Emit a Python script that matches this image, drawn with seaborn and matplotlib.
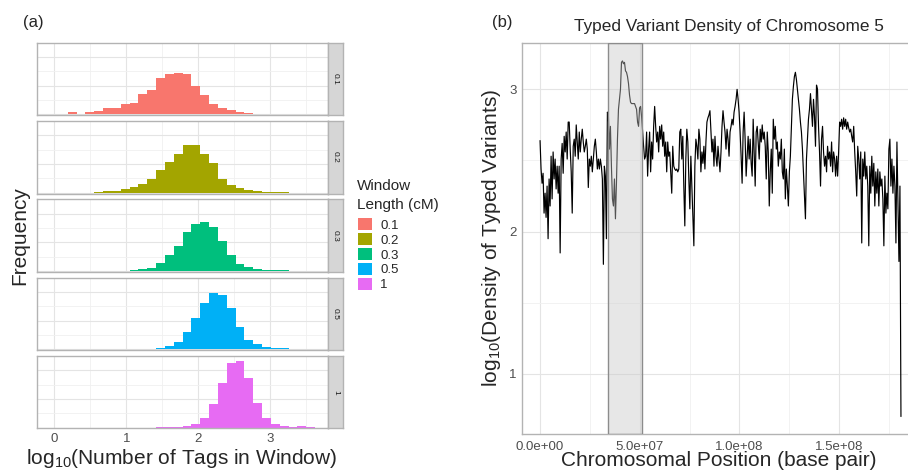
import numpy as np
import pandas as pd
import matplotlib
matplotlib.use("Agg")
import matplotlib.pyplot as plt
import seaborn as sns
from matplotlib.patches import Patch
from matplotlib.ticker import MultipleLocator, FuncFormatter, FixedLocator

sns.set_theme(style="white")
plt.rcParams["font.family"] = ["Liberation Sans", "DejaVu Sans"]
plt.rcParams["mathtext.fontset"] = "custom"
plt.rcParams["mathtext.rm"] = "Liberation Sans"
plt.rcParams["mathtext.it"] = "Liberation Sans:italic"
plt.rcParams["mathtext.bf"] = "Liberation Sans:bold"

# ---------------- data: panel (a) ----------------
window_lengths = ["0.1", "0.2", "0.3", "0.5", "1"]
window_colors = ["#F8766D", "#A3A500", "#00BF7D", "#00B0F6", "#E76BF3"]
bin_start = -0.06
bin_width = 0.1227
n_bins = 30

counts_01 = [0, 0, 140, 20, 190, 230, 420, 440, 740, 810, 1400, 1740, 2560, 2790, 2910,
             2790, 2000, 1330, 720, 470, 280, 160, 90, 50, 20, 20, 20, 10, 10, 0]
counts_02 = [0, 0, 0, 0, 0, 20, 90, 140, 260, 370, 600, 930, 1560, 2120, 2680,
             3300, 3300, 2700, 2050, 930, 540, 350, 210, 140, 70, 20, 20, 0, 0, 0]
counts_03 = [0, 0, 0, 7, 7, 7, 7, 12, 23, 47, 116, 233, 582, 1093, 1745,
             2745, 3303, 3442, 3070, 2117, 1093, 488, 256, 140, 93, 70, 47, 23, 0, 0]
counts_05 = [0, 0, 0, 0, 0, 0, 0, 7, 12, 12, 23, 60, 116, 240, 530,
             1230, 2220, 3256, 3910, 3768, 2880, 1560, 660, 349, 186, 116, 93, 47, 0, 0]
counts_1 = [0, 0, 0, 0, 0, 0, 0, 0, 12, 12, 12, 12, 23, 47, 70,
            93, 240, 700, 1630, 3140, 4489, 4660, 3450, 1720, 640, 240, 93, 20, 120, 20]
all_counts = [counts_01, counts_02, counts_03, counts_05, counts_1]

# ---------------- data: panel (b) ----------------
chrom_length_bp = 181.0e6
centromere_start = 33.9e6
centromere_end = 51.3e6
log_density = [
    2.64, 2.44, 2.34, 2.41, 2.13, 2.27, 2.10, 2.32, 1.95, 2.37, 2.18, 2.53, 2.23, 2.56, 2.37,
    2.51, 2.30, 2.46, 2.27, 2.46, 1.85, 2.51, 2.62, 2.41, 2.67, 2.56, 2.70, 2.51, 2.77, 2.77,
    2.58, 2.42, 2.13, 2.60, 2.65, 2.53, 2.75, 2.63, 2.51, 2.70, 2.56, 2.65, 2.72, 2.63, 2.56,
    2.60, 2.65, 2.58, 2.31, 2.51, 2.46, 2.53, 2.42, 2.51, 2.60, 2.65, 2.56, 2.44, 2.51, 2.44,
    2.51, 2.46, 2.37, 1.77, 2.46, 2.39, 1.95, 2.84, 2.81, 2.58, 2.74, 2.46, 2.23, 2.18, 2.37,
    2.09, 2.34, 2.65, 2.86, 2.93, 3.00, 3.19, 3.20, 3.18, 3.19, 3.13, 3.12, 3.09, 3.04, 2.96,
    2.91, 2.90, 2.90, 2.90, 2.90, 2.88, 2.86, 2.77, 2.74, 2.87, 2.88, 2.81, 2.70, 2.60, 2.51,
    2.53, 2.70, 2.39, 2.58, 2.70, 2.42, 2.63, 2.51, 2.74, 2.88, 2.74, 2.63, 2.70, 2.56, 2.74,
    2.65, 2.75, 2.60, 2.70, 2.53, 2.63, 2.42, 2.63, 2.53, 2.56, 2.42, 2.27, 2.60, 2.46, 2.44,
    2.43, 2.44, 2.42, 2.44, 2.70, 2.72, 2.51, 2.67, 2.32, 2.04, 2.51, 2.72, 2.63, 2.37, 2.16,
    2.53, 2.32, 2.09, 1.90, 2.46, 2.65, 2.60, 2.51, 2.72, 2.65, 2.42, 2.56, 2.48, 2.60, 2.44,
    2.63, 2.77, 2.80, 2.82, 2.85, 2.70, 2.56, 2.65, 2.46, 2.67, 2.53, 2.46, 2.60, 2.51, 2.42,
    2.56, 2.74, 2.85, 2.77, 2.70, 2.58, 2.72, 2.65, 2.53, 2.70, 2.74, 2.79, 2.75, 2.84, 2.88,
    2.93, 3.00, 2.93, 2.84, 2.70, 2.53, 2.34, 2.70, 2.84, 2.65, 2.39, 2.53, 2.67, 2.51, 2.65,
    2.48, 2.39, 2.79, 2.56, 2.32, 2.70, 2.74, 2.63, 2.51, 2.72, 2.63, 2.75, 2.65, 2.70, 2.60,
    2.37, 2.70, 2.56, 2.18, 2.42, 2.58, 2.27, 2.79, 2.65, 2.74, 2.58, 2.63, 2.46, 2.56, 2.51,
    2.65, 2.42, 2.37, 2.58, 2.23, 2.44, 2.32, 2.18, 2.42, 2.53, 2.74, 2.93, 3.02, 3.09, 3.12,
    3.07, 3.00, 2.93, 2.86, 2.77, 2.70, 2.58, 2.42, 2.27, 2.09, 2.51, 2.65, 2.79, 2.86, 2.97,
    2.86, 2.74, 2.93, 2.81, 2.60, 3.03, 3.00, 2.74, 2.56, 2.32, 2.65, 2.74, 2.56, 2.46, 2.53,
    2.42, 2.60, 2.51, 2.56, 2.46, 2.63, 2.42, 2.56, 2.51, 2.39, 2.53, 2.39, 2.56, 2.77, 2.74,
    2.79, 2.72, 2.80, 2.74, 2.79, 2.72, 2.77, 2.73, 2.70, 2.72, 2.67, 2.63, 2.74, 2.56, 2.42,
    2.25, 2.60, 2.51, 2.37, 2.56, 1.92, 2.51, 2.39, 2.56, 2.37, 2.46, 2.32, 1.90, 2.46, 2.27,
    2.53, 2.32, 2.48, 2.18, 2.42, 2.27, 2.44, 2.18, 2.42, 2.32, 2.37, 2.23, 1.90, 2.39, 2.13,
    2.27, 2.16, 2.58, 2.65, 2.32, 2.51, 2.27, 2.46, 2.32, 1.92, 2.63, 2.23, 1.79, 2.32, 0.70,
]
position_bp = np.linspace(0, chrom_length_bp, len(log_density))

# ---------------- build tables ----------------
edges = (bin_start + bin_width * np.arange(n_bins + 1)).tolist()
centers = [(a + b) / 2 for a, b in zip(edges[:-1], edges[1:])]
hist_df = pd.concat(
    [pd.DataFrame({"window": wl, "center": centers, "count": c})
     for wl, c in zip(window_lengths, all_counts)],
    ignore_index=True,
)
line_df = pd.DataFrame({"position": position_bp, "density": log_density})

# ---------------- figure ----------------
W, H = 908, 474
fig = plt.figure(figsize=(W / 100, H / 100), dpi=100)
border_col = "#B3B3B3"
grid_major = "#E4E4E4"
grid_minor = "#F0F0F0"
tick_col = "#4D4D4D"

panel_left, panel_right = 36.7, 328.0
panel_h, panel_step, top0 = 72.5, 78.3, 42.7
for i, wl in enumerate(window_lengths):
    top = top0 + i * panel_step
    bottom = top + panel_h
    ax = fig.add_axes([panel_left / W, 1 - bottom / H, (panel_right - panel_left) / W, panel_h / H])
    sub = hist_df[hist_df["window"] == wl]
    sns.histplot(data=sub, x="center", weights="count", bins=edges, color=window_colors[i],
                 alpha=1, linewidth=0, ax=ax)
    ax.set_xlim(-0.245, 3.80)
    ax.set_ylim(-50, 5000)
    ax.set_xlabel("")
    ax.set_ylabel("")
    ax.xaxis.set_major_locator(FixedLocator([0, 1, 2, 3]))
    ax.xaxis.set_minor_locator(MultipleLocator(0.5))
    ax.yaxis.set_major_locator(FixedLocator([0, 2000, 4000]))
    ax.yaxis.set_minor_locator(FixedLocator([1000, 3000]))
    ax.grid(which="major", color=grid_major, linewidth=0.8)
    ax.grid(which="minor", color=grid_minor, linewidth=0.6)
    ax.set_axisbelow(True)
    for s in ax.spines.values():
        s.set_color(border_col)
        s.set_linewidth(1.0)
    ax.tick_params(axis="y", which="both", left=False, labelleft=False)
    ax.tick_params(axis="x", which="both", bottom=False, length=0, pad=3.5,
                   labelsize=9.5, labelcolor=tick_col, labelbottom=(i == len(window_lengths) - 1))
    # facet strip
    sax = fig.add_axes([panel_right / W, 1 - bottom / H, 14.7 / W, panel_h / H])
    sax.set_facecolor("#D6D6D6")
    sax.set_xticks([])
    sax.set_yticks([])
    for s in sax.spines.values():
        s.set_color(border_col)
        s.set_linewidth(1.0)
    sax.text(0.5, 0.5, wl, rotation=-90, ha="center", va="center", fontsize=6,
             color="#1A1A1A", transform=sax.transAxes)

# legend
fig.text(357 / W, 1 - 186 / H, "Window", ha="left", va="center", fontsize=11)
fig.text(357 / W, 1 - 205 / H, "Length (cM)", ha="left", va="center", fontsize=11)
handles = [Patch(facecolor=c, edgecolor="none", label=l) for c, l in zip(window_colors, window_lengths)]
fig.legend(handles=handles, loc="upper left",
           bbox_to_anchor=(358 / W, 1 - 218 / H), frameon=False, fontsize=9.5,
           handlelength=1.05, handleheight=1.05, labelspacing=0.1,
           handletextpad=0.65, borderpad=0, borderaxespad=0)

fig.text(23 / W, 1 - 23 / H, "(a)", ha="left", va="center", fontsize=12)
fig.text(20 / W, 1 - 236 / H, "Frequency", rotation=90, ha="center", va="center", fontsize=15)
fig.text(182 / W, 1 - 459 / H, r"log$_{10}$(Number of Tags in Window)", ha="center",
         va="center", fontsize=15)

# ---------------- panel (b) ----------------
axb = fig.add_axes([522 / W, 1 - 434 / H, (919 - 522) / W, (434 - 43) / H])
sns.lineplot(data=line_df, x="position", y="density", estimator=None, sort=False,
             color="black", linewidth=0.85, ax=axb)
axb.axvspan(centromere_start, centromere_end, facecolor="#C8C8C8", alpha=0.42,
            edgecolor="none", zorder=3)
axb.axvspan(centromere_start, centromere_end, facecolor="none", edgecolor="#8C8C8C",
            linewidth=1.0, zorder=4)
axb.set_xlim(-0.05 * chrom_length_bp, 1.05 * chrom_length_bp)
axb.set_ylim(0.577, 3.326)
axb.set_xlabel("")
axb.set_ylabel("")
axb.xaxis.set_major_locator(FixedLocator([0, 5e7, 1e8, 1.5e8]))
axb.xaxis.set_minor_locator(FixedLocator([2.5e7, 7.5e7, 1.25e8, 1.75e8]))
axb.xaxis.set_major_formatter(FuncFormatter(lambda v, p: f"{v:.1e}"))
axb.yaxis.set_major_locator(FixedLocator([1, 2, 3]))
axb.yaxis.set_minor_locator(FixedLocator([1.5, 2.5]))
axb.grid(which="major", color=grid_major, linewidth=0.8)
axb.grid(which="minor", color=grid_minor, linewidth=0.6)
axb.set_axisbelow(True)
for s in axb.spines.values():
    s.set_color(border_col)
    s.set_linewidth(1.0)
axb.tick_params(axis="both", which="both", length=0, labelsize=9.5, labelcolor=tick_col)
axb.tick_params(axis="x", pad=5)
axb.tick_params(axis="y", pad=4)

fig.text(492 / W, 1 - 23 / H, "(b)", ha="left", va="center", fontsize=12)
fig.text(729 / W, 1 - 26 / H, "Typed Variant Density of Chromosome 5", ha="center",
         va="center", fontsize=12.4)
fig.text(491 / W, 1 - 238 / H, r"log$_{10}$(Density of Typed Variants)", rotation=90,
         ha="center", va="center", fontsize=15)
fig.text(719 / W, 1 - 461 / H, "Chromosomal Position (base pair)", ha="center",
         va="center", fontsize=15)

fig.savefig("out.png", dpi=100)
